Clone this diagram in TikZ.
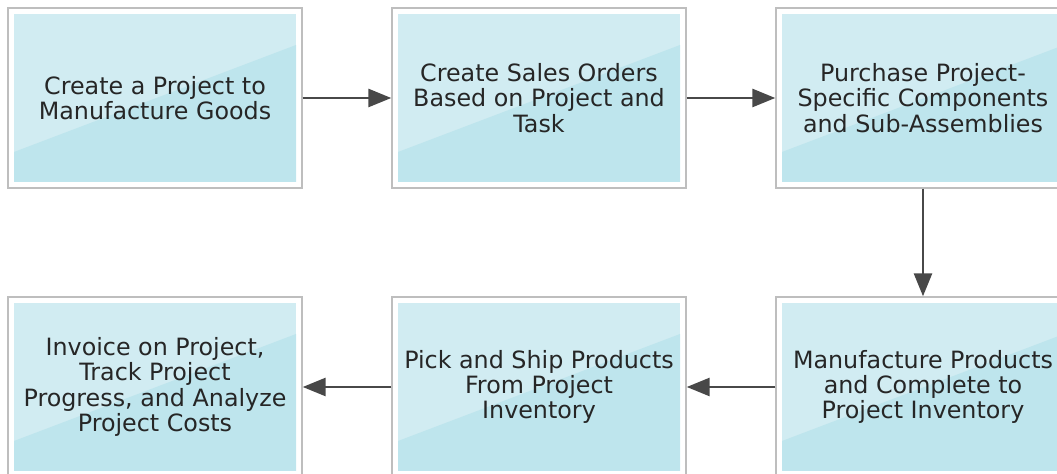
\documentclass[tikz,border=0pt]{standalone}
\usepackage{fontspec}
\setmainfont{DejaVu Sans}
\usetikzlibrary{calc, arrows.meta}

\definecolor{boxframe}{RGB}{190,190,190}
\definecolor{boxlite}{RGB}{209,236,242}
\definecolor{boxdark}{RGB}{190,229,237}
\definecolor{arrowgray}{RGB}{72,72,72}

\tikzset{
	stepbox/.style = {draw = boxframe, line width = 0.7pt, minimum width = 147pt, minimum height = 90pt,
		inner sep = 0pt, align = center, text = black!85, font = \fontsize{11.9}{12.6}\selectfont,
		path picture = {
			\fill[boxlite] ($(path picture bounding box.south west)+(3pt,3pt)$) rectangle ($(path picture bounding box.north east)+(-3pt,-3pt)$);
			\fill[boxdark] ($(path picture bounding box.south west)+(3pt,3pt)$) -- ($(path picture bounding box.south east)+(-3pt,3pt)$)
				-- ($(path picture bounding box.north east)+(-3pt,-18.5pt)$) -- ($(path picture bounding box.south west)+(3pt,18pt)$) -- cycle;
		}
	}
}

\begin{document}
\begin{tikzpicture}[x = 0.5pt, y = -0.5pt]
	\def\rowA{98};
	\def\rowB{387};
	\def\colA{155};
	\def\colB{539};
	\def\colC{923};

	\useasboundingbox (0,0) rectangle (1057,474);

	\begin{scope}
		\node [stepbox] (create) at (\colA,\rowA) {Create a Project to\\Manufacture Goods};
		\node [stepbox] (sales) at (\colB,\rowA) {Create Sales Orders\\Based on Project and\\Task};
		\node [stepbox] (purchase) at (\colC,\rowA) {Purchase Project-\\Specific Components\\and Sub-Assemblies};
	\end{scope}

	\begin{scope}
		\node [stepbox] (manufacture) at (\colC,\rowB) {Manufacture Products\\and Complete to\\Project Inventory};
		\node [stepbox] (pick) at (\colB,\rowB) {Pick and Ship Products\\From Project\\Inventory};
		\node [stepbox] (invoice) at (\colA,\rowB) {Invoice on Project,\\Track Project\\Progress, and Analyze\\Project Costs};
	\end{scope}

	\begin{scope}[arrowgray, line width = 1.4pt, -{Triangle[length = 11.5pt, width = 9pt]}]
		\draw (create) -- (sales);
		\draw (sales) -- (purchase);
		\draw (purchase) -- (manufacture);
		\draw (manufacture) -- (pick);
		\draw (pick) -- (invoice);
	\end{scope}
\end{tikzpicture}
\end{document}
